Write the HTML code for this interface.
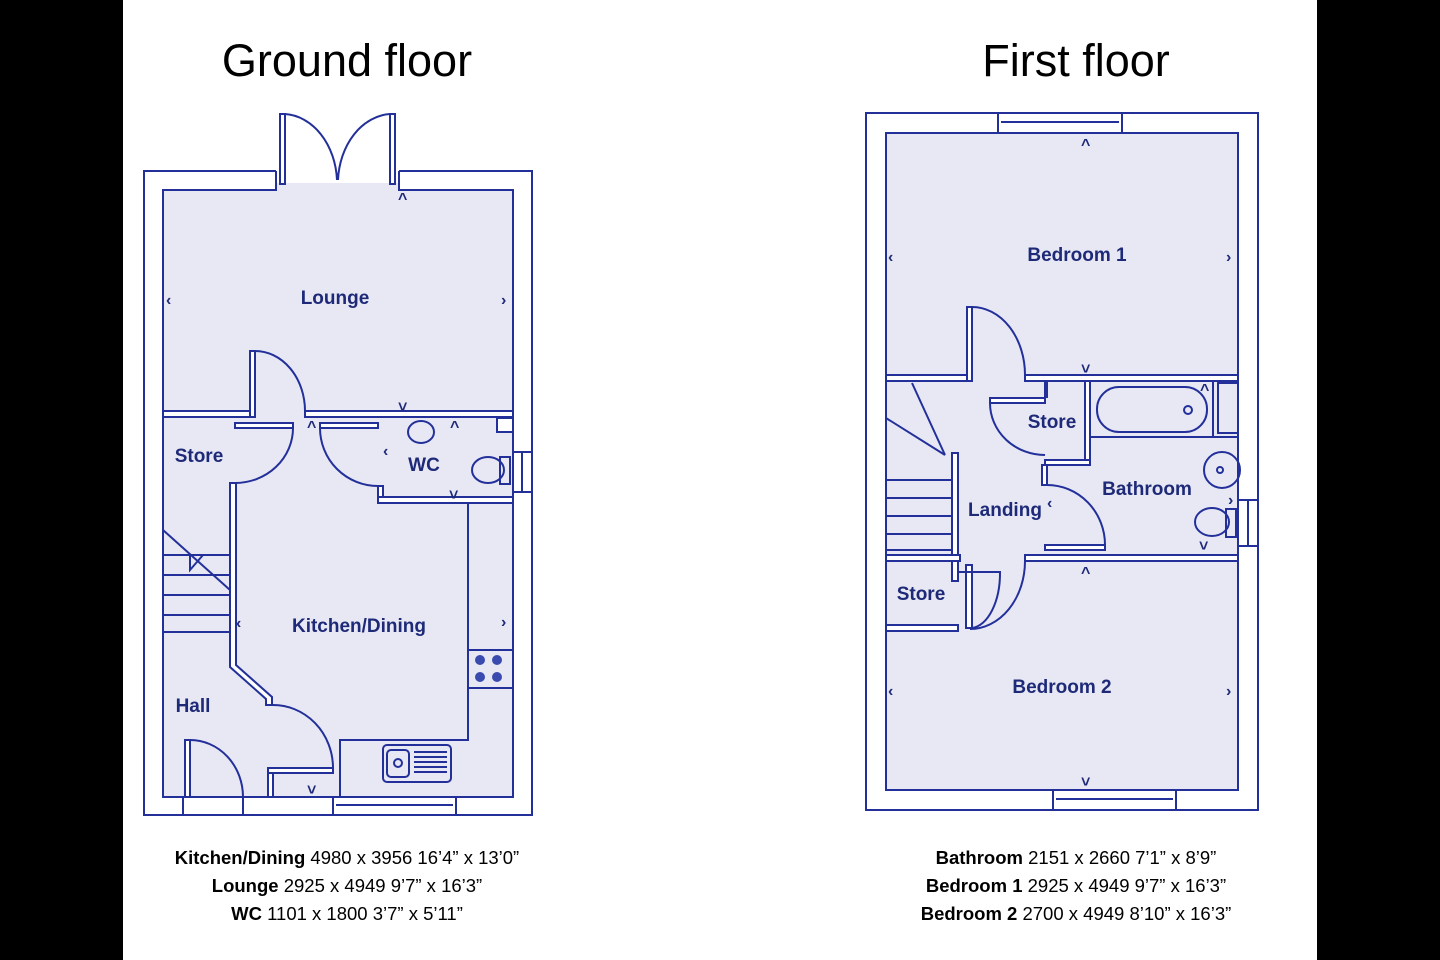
<!DOCTYPE html>
<html><head><meta charset="utf-8"><style>
html,body{margin:0;padding:0;background:#000;}
svg{display:block}
.w{fill:#fff;stroke:#23309a;stroke-width:2}
.f{fill:#e8e8f5;stroke:#23309a;stroke-width:2}
.l{stroke:#23309a;stroke-width:2;fill:none}
.iw{stroke:#23309a;stroke-width:2;fill:#fff}
.t{font-family:"Liberation Sans",sans-serif;font-weight:bold;fill:#1e2a78;font-size:19px}
.a{font-family:"Liberation Sans",sans-serif;font-weight:bold;fill:#1e2a78;font-size:16px}
.h{font-family:"Liberation Sans",sans-serif;font-size:45px;fill:#000}
.d{font-family:"Liberation Sans",sans-serif;font-size:18.5px;fill:#000}
</style></head><body>
<svg width="1440" height="960" viewBox="0 0 1440 960" xmlns="http://www.w3.org/2000/svg">
<rect x="123" y="0" width="1194" height="960" fill="#fff"/>
<text class="h" x="347" y="76" text-anchor="middle">Ground floor</text>
<text class="h" x="1076" y="76" text-anchor="middle">First floor</text>

<!-- GROUND FLOOR -->
<rect class="w" x="144" y="171" width="388" height="644"/>
<rect x="276" y="170" width="123" height="22" fill="#fff"/>
<line class="l" x1="276" y1="171" x2="276" y2="190"/><line class="l" x1="399" y1="171" x2="399" y2="190"/>
<rect class="f" x="163" y="190" width="350" height="607"/>
<rect x="277" y="183" width="121" height="9" fill="#e8e8f5"/>
<rect class="iw" x="280" y="114" width="5" height="70"/><rect class="iw" x="390" y="114" width="5" height="70"/>
<path class="l" d="M285 114 A55 70 0 0 1 337 180 M390 114 A55 70 0 0 0 338 180"/>
<rect class="iw" x="333" y="797" width="123" height="18"/><line class="l" x1="336" y1="805" x2="453" y2="805"/>
<rect class="iw" x="513" y="452" width="19" height="40"/><line class="l" x1="522" y1="452" x2="522" y2="492"/>
<rect x="190" y="798" width="53" height="16" fill="#fff"/>
<line class="l" x1="243" y1="797" x2="243" y2="815"/><line class="l" x1="183" y1="797" x2="183" y2="815"/>
<rect class="iw" x="185" y="740" width="5" height="57"/>
<path class="l" d="M190 740 A53 57 0 0 1 243 797"/>
<rect class="iw" x="163" y="411" width="87" height="6"/>
<rect class="iw" x="305" y="411" width="208" height="6"/>
<rect class="iw" x="250" y="351" width="5" height="66"/>
<path class="l" d="M255 351 A50 60 0 0 1 305 411"/>
<rect class="iw" x="235" y="423" width="58" height="5"/>
<path class="l" d="M293 428 A58 55 0 0 1 235 483"/>
<rect class="iw" x="320" y="423" width="58" height="5"/>
<path class="l" d="M320 428 A58 58 0 0 0 378 486"/>
<rect class="iw" x="378" y="486" width="5" height="17"/>
<rect class="iw" x="378" y="497" width="135" height="6"/>
<rect class="iw" x="497" y="418" width="16" height="14"/>
<ellipse class="l" cx="421" cy="432" rx="13" ry="11"/>
<ellipse class="l" cx="488" cy="470" rx="16" ry="13"/><rect class="l" x="500" y="457" width="10" height="27"/>
<path class="iw" d="M230 483 L236 483 L236 665 L272 697 L272 705 L266 705 L266 699 L230 667 Z"/>
<g class="l"><line x1="163" y1="555" x2="230" y2="555"/><line x1="163" y1="575" x2="230" y2="575"/><line x1="163" y1="595" x2="230" y2="595"/><line x1="163" y1="615" x2="230" y2="615"/><line x1="163" y1="632" x2="230" y2="632"/><line x1="163" y1="530" x2="230" y2="590"/><path d="M190 555 L190 570 L203 555"/></g>
<path class="l" d="M272 705 A60 63 0 0 1 333 768"/>
<rect class="iw" x="268" y="768" width="65" height="5"/>
<rect class="iw" x="268" y="773" width="5" height="24"/>
<polyline class="l" points="468,503 468,740 340,740 340,797"/>
<rect class="l" x="468" y="650" width="45" height="38"/>
<g fill="#3a4bb0"><circle cx="480" cy="660" r="5"/><circle cx="497" cy="660" r="5"/><circle cx="480" cy="677" r="5"/><circle cx="497" cy="677" r="5"/></g>
<rect class="l" x="383" y="745" width="68" height="37" rx="4"/><rect class="l" x="387" y="750" width="22" height="27" rx="4"/><circle class="l" cx="398" cy="763" r="4"/>
<g class="l" stroke-width="1"><line x1="414" y1="752" x2="447" y2="752"/><line x1="414" y1="757" x2="447" y2="757"/><line x1="414" y1="762" x2="447" y2="762"/><line x1="414" y1="767" x2="447" y2="767"/><line x1="414" y1="772" x2="447" y2="772"/></g>
<text class="t" x="335" y="304" text-anchor="middle">Lounge</text>
<text class="t" x="199" y="462" text-anchor="middle">Store</text>
<text class="t" x="424" y="471" text-anchor="middle">WC</text>
<text class="t" x="359" y="632" text-anchor="middle">Kitchen/Dining</text>
<text class="t" x="193" y="712" text-anchor="middle">Hall</text>
<g class="a"><text x="166" y="305">‹</text><text x="501" y="305">›</text><text x="398" y="204">^</text><text x="307" y="432">^</text><text x="450" y="432">^</text><text x="383" y="456">‹</text><text x="236" y="628">‹</text><text x="501" y="627">›</text><text x="398" y="412">˅</text><text x="449" y="500">˅</text><text x="307" y="795">˅</text></g>

<!-- FIRST FLOOR -->
<rect class="w" x="866" y="113" width="392" height="697"/>
<rect class="f" x="886" y="133" width="352" height="657"/>
<rect class="iw" x="998" y="113" width="124" height="20"/><line class="l" x1="1001" y1="122" x2="1119" y2="122"/>
<rect class="iw" x="1053" y="790" width="123" height="20"/><line class="l" x1="1056" y1="799" x2="1173" y2="799"/>
<rect class="iw" x="1238" y="500" width="20" height="46"/><line class="l" x1="1248" y1="500" x2="1248" y2="546"/>
<rect class="iw" x="886" y="375" width="82" height="6"/>
<rect class="iw" x="1025" y="375" width="213" height="6"/>
<rect class="iw" x="967" y="307" width="5" height="74"/>
<path class="l" d="M972 307 A53 68 0 0 1 1025 375"/>
<polyline class="l" points="1045,381 1045,398 M1085,381 1085,460 1045,460 1045,453"/>
<line class="l" x1="1047" y1="381" x2="1047" y2="398"/>
<rect class="iw" x="990" y="398" width="55" height="5"/>
<path class="l" d="M990 403 A55 52 0 0 0 1045 455"/>
<rect class="iw" x="1085" y="381" width="5" height="83"/>
<rect class="iw" x="1045" y="460" width="45" height="5"/>
<rect class="iw" x="1042" y="465" width="5" height="20"/>
<rect class="l" x="1097" y="387" width="110" height="45" rx="22"/>
<rect class="l" x="1218" y="383" width="20" height="50"/><line class="l" x1="1090" y1="437" x2="1238" y2="437"/><line class="l" x1="1213" y1="381" x2="1213" y2="437"/>
<circle class="l" cx="1188" cy="410" r="4"/>
<circle class="l" cx="1222" cy="470" r="18"/><circle class="l" cx="1220" cy="470" r="3"/>
<ellipse class="l" cx="1212" cy="522" rx="17" ry="14"/><rect class="l" x="1226" y="509" width="10" height="28"/>
<path class="l" d="M1047 485 A58 60 0 0 1 1105 545"/>
<rect class="iw" x="1045" y="545" width="60" height="5"/>
<rect class="iw" x="1025" y="555" width="213" height="6"/>
<rect class="iw" x="952" y="453" width="6" height="102"/>
<g class="l"><line x1="886" y1="480" x2="952" y2="480"/><line x1="886" y1="498" x2="952" y2="498"/><line x1="886" y1="516" x2="952" y2="516"/><line x1="886" y1="534" x2="952" y2="534"/><line x1="886" y1="550" x2="952" y2="550"/><line x1="912" y1="383" x2="945" y2="455"/><line x1="886" y1="418" x2="945" y2="455"/></g>
<rect class="iw" x="886" y="555" width="74" height="6"/>
<rect class="iw" x="952" y="561" width="6" height="20"/>
<rect class="iw" x="886" y="625" width="72" height="6"/>
<rect class="iw" x="966" y="565" width="6" height="63"/>
<path class="l" d="M958 572 L1000 572 A30 55 0 0 1 972 628"/>
<path class="l" d="M1025 561 A55 68 0 0 1 970 629"/>
<text class="t" x="1077" y="261" text-anchor="middle">Bedroom 1</text>
<text class="t" x="1052" y="428" text-anchor="middle">Store</text>
<text class="t" x="1147" y="495" text-anchor="middle">Bathroom</text>
<text class="t" x="1005" y="516" text-anchor="middle">Landing</text>
<text class="t" x="921" y="600" text-anchor="middle">Store</text>
<text class="t" x="1062" y="693" text-anchor="middle">Bedroom 2</text>
<g class="a"><text x="888" y="262">‹</text><text x="1226" y="262">›</text><text x="1081" y="150">^</text><text x="1081" y="374">˅</text><text x="1047" y="508">‹</text><text x="1200" y="395">^</text><text x="1228" y="505">›</text><text x="1199" y="551">˅</text><text x="1081" y="578">^</text><text x="888" y="696">‹</text><text x="1226" y="696">›</text><text x="1081" y="787">˅</text></g>

<text class="d" x="347" y="864" text-anchor="middle"><tspan font-weight="bold">Kitchen/Dining</tspan> 4980 x 3956 16’4” x 13’0”</text>
<text class="d" x="347" y="892" text-anchor="middle"><tspan font-weight="bold">Lounge</tspan> 2925 x 4949 9’7” x 16’3”</text>
<text class="d" x="347" y="920" text-anchor="middle"><tspan font-weight="bold">WC</tspan> 1101 x 1800 3’7” x 5’11”</text>
<text class="d" x="1076" y="864" text-anchor="middle"><tspan font-weight="bold">Bathroom</tspan> 2151 x 2660 7’1” x 8’9”</text>
<text class="d" x="1076" y="892" text-anchor="middle"><tspan font-weight="bold">Bedroom 1</tspan> 2925 x 4949 9’7” x 16’3”</text>
<text class="d" x="1076" y="920" text-anchor="middle"><tspan font-weight="bold">Bedroom 2</tspan> 2700 x 4949 8’10” x 16’3”</text>
</svg>
</body></html>
